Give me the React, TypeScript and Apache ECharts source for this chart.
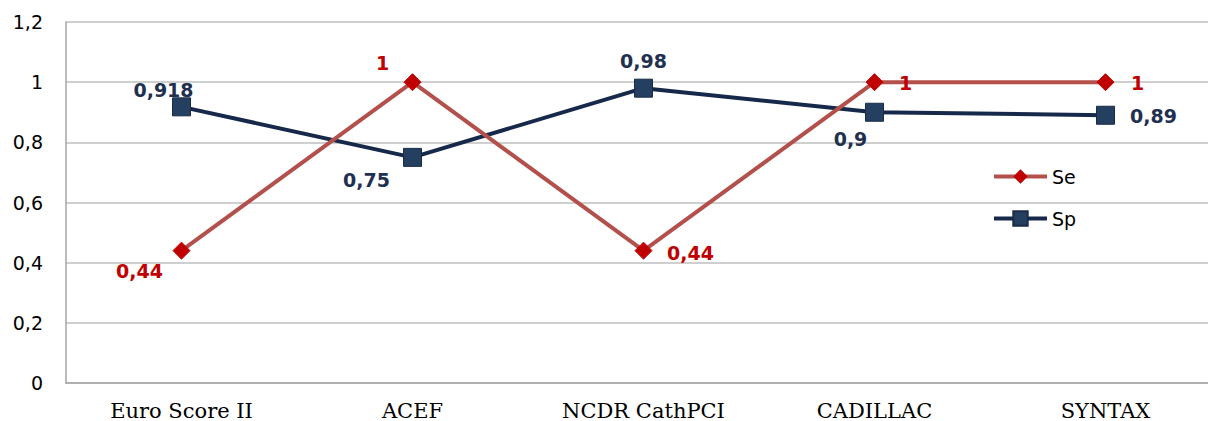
import React, { useEffect, useRef } from "react";
import * as echarts from "echarts";

const categories = ["Euro Score II", "ACEF", "NCDR CathPCI", "CADILLAC", "SYNTAX"];
const seValues = [0.44, 1, 0.44, 1, 1];
const spValues = [0.918, 0.75, 0.98, 0.9, 0.89];
const yTicks = { min: 0, max: 1.2, interval: 0.2 };

const seLabelOffsets = [[-42, 20], [-30, -19], [47, 2], [31, 1], [32, 1]];
const spLabelOffsets = [[-18, -17], [-46, 23], [0, -27], [-24, 27], [48, 1]];

const comma = (v: number) => String(Math.round(v * 1000) / 1000).replace(".", ",");

export default function App() {
  const ref = useRef<HTMLDivElement>(null);
  useEffect(() => {
    if (!ref.current) return;
    const chart = echarts.init(ref.current, undefined, { renderer: "svg" });
    const mk = (vals: number[], offs: number[][]) =>
      vals.map((v, i) => ({ value: v, label: { offset: offs[i] } }));
    chart.setOption({
      animation: false,
      backgroundColor: "#ffffff",
      grid: { left: 66, right: 0, top: 22, bottom: 38, containLabel: false },
      legend: {
        orient: "vertical",
        left: 987,
        top: 162,
        itemWidth: 53,
        itemHeight: 18,
        itemGap: 23,
        textStyle: { fontFamily: "DejaVu Sans", fontSize: 19, color: "#000" },
        data: [
          { name: "Se", lineStyle: { width: 4, color: "#B3504C" } },
          { name: "Sp", lineStyle: { width: 4, color: "#17294A" } },
        ],
      },
      xAxis: {
        type: "category",
        data: categories,
        boundaryGap: true,
        axisLine: { lineStyle: { color: "#A6A6A6", width: 1.5 } },
        axisTick: { show: false },
        axisLabel: {
          fontFamily: "DejaVu Serif",
          fontSize: 21,
          color: "#000",
          margin: 17,
        },
      },
      yAxis: {
        type: "value",
        min: yTicks.min,
        max: yTicks.max,
        interval: yTicks.interval,
        axisLine: { show: true, lineStyle: { color: "#A6A6A6", width: 1.5 } },
        axisTick: { show: false },
        splitLine: { lineStyle: { color: "#BFBFBF", width: 1.5 } },
        axisLabel: {
          fontFamily: "DejaVu Sans",
          fontSize: 19,
          color: "#000",
          margin: 23,
          formatter: (v: number) => comma(Math.round(v * 10) / 10),
        },
      },
      series: [
        {
          name: "Se",
          type: "line",
          data: mk(seValues, seLabelOffsets),
          symbol: "diamond",
          symbolSize: 17,
          lineStyle: { color: "#B3504C", width: 4 },
          itemStyle: { color: "#C00000", borderColor: "#C00000" },
          color: "#B3504C",
          label: {
            show: true,
            position: "inside",
            fontFamily: "DejaVu Sans",
            fontWeight: "bold",
            fontSize: 19,
            color: "#C00000",
            formatter: (p: any) => comma(p.value),
          },
          z: 3,
        },
        {
          name: "Sp",
          type: "line",
          data: mk(spValues, spLabelOffsets),
          symbol: "rect",
          symbolSize: 18,
          lineStyle: { color: "#17294A", width: 4 },
          itemStyle: { color: "#243F60", borderColor: "#1A2C45", borderWidth: 1 },
          color: "#17294A",
          label: {
            show: true,
            position: "inside",
            fontFamily: "DejaVu Sans",
            fontWeight: "bold",
            fontSize: 19,
            color: "#1F3050",
            formatter: (p: any) => comma(p.value),
          },
          z: 2,
        },
      ],
    });
    return () => chart.dispose();
  }, []);
  return (
    <div
      ref={ref}
      style={{ position: "fixed", left: 0, top: 0, width: 1221, height: 421 }}
    />
  );
}
